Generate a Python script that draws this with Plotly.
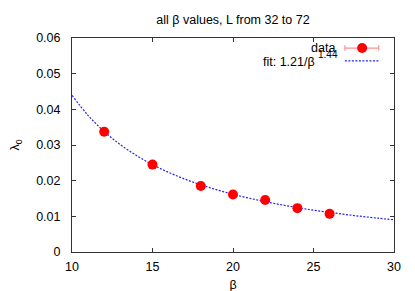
import plotly.graph_objects as go

# Data
beta = [12, 15, 18, 20, 22, 24, 26]
lambda0 = [0.0337, 0.0245, 0.0185, 0.0161, 0.0146, 0.0123, 0.0107]

# Fit curve 1.21/beta^1.44
fit_beta = [10, 11, 12, 13, 14, 15, 16, 17, 18, 19, 20, 21, 22, 23, 24, 25, 26, 27, 28, 29, 30]
fit_lambda = [0.04393, 0.03830, 0.03379, 0.03011, 0.02707, 0.02450, 0.02233, 0.02046,
              0.01884, 0.01743, 0.01619, 0.01509, 0.01412, 0.01324, 0.01245, 0.01174,
              0.01110, 0.01051, 0.00997, 0.00948, 0.00903]

x_ticks = [10, 15, 20, 25, 30]
y_ticks = [0, 0.01, 0.02, 0.03, 0.04, 0.05, 0.06]
y_tick_labels = ["0", "0.01", "0.02", "0.03", "0.04", "0.05", "0.06"]

FONT = "Liberation Sans, Arial, sans-serif"
AX = "#333333"
OFF = 8  # page body margin offset compensation

fig = go.Figure()

fig.add_trace(go.Scatter(
    x=fit_beta, y=fit_lambda, mode="lines", line_shape="spline",
    line=dict(color="#2222ff", width=1.2, dash="2px,1.5px"),
    showlegend=False, hoverinfo="skip"))

fig.add_trace(go.Scatter(
    x=beta, y=lambda0, mode="markers",
    marker=dict(color="#ff0000", size=10, line=dict(width=0)),
    showlegend=False))

# Legend samples on an overlay axis (0..1 over the plot area)
fig.add_trace(go.Scatter(
    x=[0.8475, 0.9525], y=[0.953, 0.953], mode="lines",
    line=dict(color="#ff9090", width=1.2), xaxis="x2", yaxis="y2",
    showlegend=False, hoverinfo="skip"))
fig.add_trace(go.Scatter(
    x=[0.8475, 0.8475, None, 0.9525, 0.9525], y=[0.94, 0.966, None, 0.94, 0.966], mode="lines",
    line=dict(color="#ff9090", width=1.2), xaxis="x2", yaxis="y2",
    showlegend=False, hoverinfo="skip"))
fig.add_trace(go.Scatter(
    x=[0.901], y=[0.953], mode="markers",
    marker=dict(color="#ff0000", size=10, line=dict(width=0)),
    xaxis="x2", yaxis="y2", showlegend=False, hoverinfo="skip"))
fig.add_trace(go.Scatter(
    x=[0.8475, 0.9525], y=[0.893, 0.893], mode="lines",
    line=dict(color="#2222ff", width=1.2, dash="2px,1.5px"),
    xaxis="x2", yaxis="y2", showlegend=False, hoverinfo="skip"))

fig.add_annotation(x=0.822, y=0.952, xref="paper", yref="paper", text="data",
                   showarrow=False, xanchor="right", yanchor="middle",
                   font=dict(family=FONT, size=12.5, color="#000"))
fig.add_annotation(x=0.762, y=0.889, xref="paper", yref="paper",
                   text="fit: 1.21/β",
                   showarrow=False, xanchor="right", yanchor="middle",
                   font=dict(family=FONT, size=12.5, color="#000"))
fig.add_annotation(x=0.758, y=0.925, xref="paper", yref="paper",
                   text="1.44",
                   showarrow=False, xanchor="left", yanchor="middle",
                   font=dict(family=FONT, size=10, color="#000"))

W, H = 415, 291
fig.update_layout(
    width=W, height=H,
    margin=dict(l=72 - OFF, r=21 + OFF, t=38 - OFF, b=39 + OFF, autoexpand=False),
    paper_bgcolor="white", plot_bgcolor="white",
    font=dict(family=FONT, size=12.5, color="#000"),
    title=dict(text="all β values, L from 32 to 72",
               x=(233 - OFF) / W, xanchor="center",
               y=1 - (20 - OFF) / H, yanchor="middle", font=dict(family=FONT, size=12.5)),
    showlegend=False,
    xaxis=dict(range=[10, 30], tickvals=x_ticks, ticks="inside", ticklen=4,
               tickcolor=AX, showline=True, linecolor=AX, linewidth=1, mirror="ticks",
               showgrid=False, zeroline=False, ticklabelstandoff=3, automargin=False,
               title=dict(text="β", standoff=7, font=dict(size=12.5))),
    yaxis=dict(range=[0, 0.06], tickvals=y_ticks, ticktext=y_tick_labels, ticks="inside",
               ticklen=4, tickcolor=AX, showline=True, linecolor=AX, linewidth=1,
               mirror="ticks", showgrid=False, zeroline=False, ticklabelstandoff=8,
               automargin=False,
               title=dict(text="λ<sub>0</sub>", standoff=17, font=dict(size=12.5))),
    xaxis2=dict(range=[0, 1], overlaying="x", visible=False, anchor="y2"),
    yaxis2=dict(range=[0, 1], overlaying="y", visible=False, anchor="x2"),
)

fig.write_html("out.html")
